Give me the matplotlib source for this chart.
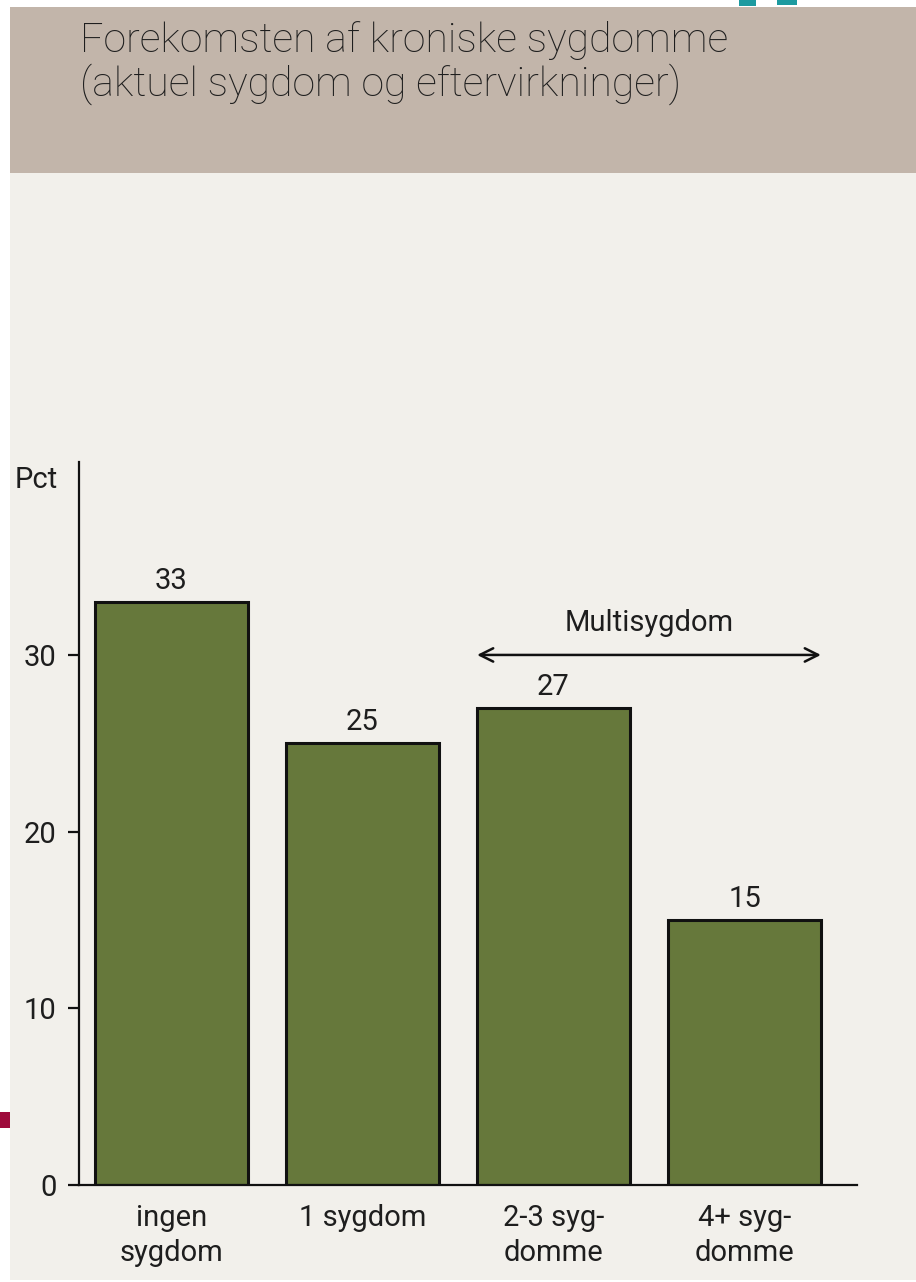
import matplotlib
matplotlib.use("Agg")
import matplotlib.pyplot as plt
from matplotlib.patches import Rectangle
from matplotlib import font_manager

# Data
categories = ["ingen\nsygdom", "1 sygdom", "2-3 syg-\ndomme", "4+ syg-\ndomme"]
values = [33, 25, 27, 15]
value_labels = ["33", "25", "27", "15"]
yticks = [0, 10, 20, 30]
title_lines = ["Forekomsten af kroniske sygdomme", "(aktuel sygdom og eftervirkninger)"]
y_unit = "Pct"
bracket_label = "Multisygdom"

available = {f.name for f in font_manager.fontManager.ttflist}
body_font = "Roboto" if "Roboto" in available else "DejaVu Sans"
plt.rcParams["font.family"] = [body_font, "DejaVu Sans"]

W, H = 916, 1282
fig = plt.figure(figsize=(W / 100, H / 100), dpi=100, facecolor="white")

def px_rect(x0, y0, x1, y1, color):
    fig.patches.append(Rectangle((x0 / W, 1 - y1 / H), (x1 - x0) / W, (y1 - y0) / H,
                                 transform=fig.transFigure, facecolor=color,
                                 edgecolor="none", zorder=-10))

# Page background, header band and small page marks
px_rect(10, 173, 916, 1280, "#f2f0eb")
px_rect(10, 7, 916, 173, "#c2b5aa")
px_rect(0, 1112, 10, 1128, "#9e0a3b")
px_rect(739, 0, 756, 6, "#1c9aa0")
px_rect(777, 0, 797, 5, "#1c9aa0")

text_color = "#1e1e1e"
fig.text(80 / W, 1 - 52 / H, title_lines[0], fontsize=29.5, fontweight="light",
         color=text_color, va="baseline", ha="left")
fig.text(80 / W, 1 - 96 / H, title_lines[1], fontsize=29.5, fontweight="light",
         color=text_color, va="baseline", ha="left")

ax = fig.add_axes([79 / W, 1 - 1185 / H, (857 - 79) / W, (1185 - 462) / H])
ax.set_facecolor("none")
ax.set_zorder(5)

x = list(range(len(values)))
bars = ax.bar(x, values, width=0.8, color="#66783b", edgecolor="#111111",
              linewidth=2.2, zorder=2)

for xi, v, lab in zip(x, values, value_labels):
    ax.annotate(lab, (xi, v), xytext=(0, 5), textcoords="offset points",
                ha="center", va="bottom", fontsize=21, color=text_color)

ax.set_xlim(-0.484, 3.589)
ax.set_ylim(0, 40.92)
ax.set_yticks(yticks)
ax.set_yticklabels([str(t) for t in yticks])
ax.set_xticks(x)
ax.set_xticklabels(categories)

for s in ["top", "right"]:
    ax.spines[s].set_visible(False)
for s in ["left", "bottom"]:
    ax.spines[s].set_linewidth(1.6)
    ax.spines[s].set_color("#111111")

ax.tick_params(axis="y", length=8, width=1.6, pad=8, labelsize=21,
               labelcolor=text_color, color="#111111")
ax.tick_params(axis="x", length=0, pad=14, labelsize=21, labelcolor=text_color)
for lbl in ax.get_xticklabels():
    lbl.set_linespacing(1.3)

fig.text(15 / W, 1 - 480 / H, y_unit, fontsize=21, color=text_color,
         ha="left", va="center")

# Multisygdom bracket spanning the last two bars
ax.annotate("", xy=(1.6, 30), xytext=(3.4, 30),
            arrowprops=dict(arrowstyle="<->", color="#111111", lw=1.8,
                            mutation_scale=24, shrinkA=0, shrinkB=0))
ax.text(2.5, 31.8, bracket_label, ha="center", va="center", fontsize=21,
        color=text_color)

fig.savefig("out.png", dpi=100, facecolor="white")
